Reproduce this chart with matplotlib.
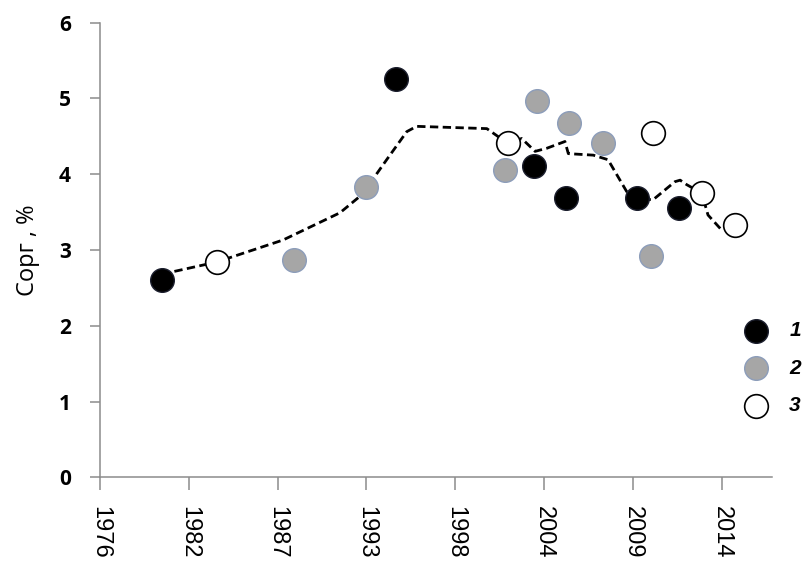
import numpy as np
import matplotlib
matplotlib.use("Agg")
import matplotlib.pyplot as plt

# axis: date-like x, ticks every ~2000 days
tick_labels = ["1976", "1982", "1987", "1993", "1998", "2004", "2009", "2014"]
tick_step = 5.48
x_min, x_max = 1976.0, 2017.45

# series 1 (black)
years_1 = [1979.81, 1994.27, 2002.78, 2004.76, 2009.12, 2011.75]
corg_1 = [2.60, 5.26, 4.11, 3.68, 3.68, 3.55]

# series 2 (grey)
years_2 = [1987.99, 1992.41, 2000.99, 2002.95, 2004.96, 2007.06, 2009.99]
corg_2 = [2.87, 3.83, 4.05, 4.96, 4.67, 4.41, 2.92]

# series 3 (white)
years_3 = [1983.20, 2001.20, 2010.11, 2013.13, 2015.19]
corg_3 = [2.84, 4.41, 4.54, 3.75, 3.33]

# dashed trend line
trend_years = [1979.82, 1983.20, 1987.29, 1990.81, 1992.17, 1993.69, 1994.93,
               1995.54, 1999.87, 2001.20, 2002.02, 2002.85, 2003.56, 2004.69,
               2004.90, 2006.44, 2007.35, 2008.50, 2009.12, 2010.12, 2011.48,
               2011.80, 2012.21, 2013.13, 2013.52, 2014.37]
trend_corg = [2.68, 2.84, 3.13, 3.49, 3.73, 4.19, 4.56,
              4.63, 4.60, 4.40, 4.47, 4.30, 4.34, 4.43,
              4.27, 4.25, 4.19, 3.77, 3.68, 3.66, 3.90,
              3.92, 3.86, 3.75, 3.46, 3.26]

fig = plt.figure(figsize=(8.08, 5.67), dpi=100)
ax = fig.add_axes([100 / 808, 1 - 477.3 / 567, 671.7 / 808, (477.3 - 22.5) / 567])

ax.plot(trend_years, trend_corg, color="black", lw=2, dashes=(3, 1.6), zorder=2)

ms = 290
ax.scatter(years_1, corg_1, s=ms, c="black", edgecolors="#1c1f2e", linewidths=1, zorder=3, label="1")
ax.scatter(years_2, corg_2, s=ms, c="#a6a6a6", edgecolors="#8c9dba", linewidths=1, zorder=3, label="2")
ax.scatter(years_3, corg_3, s=ms, c="white", edgecolors="black", linewidths=1.2, zorder=3, label="3")

ax.set_xlim(x_min, x_max)
ax.set_ylim(0, 6)
ax.set_xticks([x_min + i * tick_step for i in range(len(tick_labels))])
ax.set_xticklabels(tick_labels, rotation=-90, fontsize=17, family="Liberation Sans")
ax.set_yticks(range(7))
ax.set_yticklabels([str(v) for v in range(7)], fontsize=15, fontweight="bold", family="Open Sans")

for side in ["top", "right"]:
    ax.spines[side].set_visible(False)
for side in ["left", "bottom"]:
    ax.spines[side].set_color("#8c8c8c")
    ax.spines[side].set_linewidth(1.1)
ax.tick_params(axis="x", direction="out", length=9, width=1.1, color="#8c8c8c", pad=12)
ax.tick_params(axis="y", direction="out", length=7, width=1.1, color="#8c8c8c", pad=14)

ax.set_ylabel("Сорг , %", fontsize=17, family="Open Sans")
ax.yaxis.set_label_coords(-0.09, 0.5)

leg = ax.legend(loc="upper left", bbox_to_anchor=(733 / 808, 1 - 311 / 567),
                bbox_transform=fig.transFigure, frameon=False,
                handletextpad=1.0, labelspacing=0.88, borderpad=0, handlelength=1.2,
                prop={"family": "Liberation Sans", "weight": "bold", "style": "italic", "size": 15})

fig.savefig("out.png", dpi=100)
